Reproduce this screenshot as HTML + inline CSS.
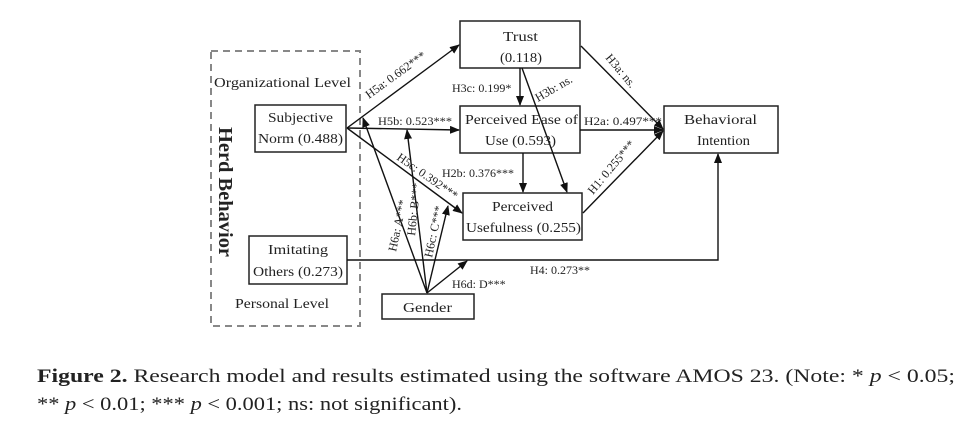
<!DOCTYPE html>
<html><head><meta charset="utf-8"><style>
body{margin:0;background:#fff;width:961px;height:424px;overflow:hidden;font-family:"Liberation Serif",serif}
</style></head><body>
<svg width="961" height="424" style="position:absolute;left:0;top:0" font-family="Liberation Serif, serif" fill="#222">
<defs><marker id="a" markerWidth="10" markerHeight="8" refX="9" refY="4" orient="auto" markerUnits="userSpaceOnUse"><path d="M0,0 L10,4 L0,8 z" fill="#111"/></marker></defs>
<rect x="211" y="51" width="149" height="275" fill="none" stroke="#888" stroke-width="2" stroke-dasharray="7,5"/>
<g fill="#fff" stroke="#222" stroke-width="1.5">
<rect x="460" y="21" width="120" height="47"/>
<rect x="460" y="106" width="120" height="47"/>
<rect x="463" y="193" width="119" height="47"/>
<rect x="255" y="105" width="91" height="47"/>
<rect x="249" y="236" width="98" height="48"/>
<rect x="382" y="294" width="92" height="25"/>
<rect x="664" y="106" width="114" height="47"/>
</g>
<g stroke="#111" stroke-width="1.4" fill="none" marker-end="url(#a)">
<line x1="347" y1="128" x2="459" y2="45"/>
<line x1="347" y1="128" x2="459" y2="130"/>
<line x1="347" y1="128" x2="462" y2="213"/>
<line x1="520" y1="68" x2="520" y2="105"/>
<line x1="522" y1="68" x2="567" y2="192"/>
<line x1="523" y1="153" x2="523" y2="192"/>
<line x1="581" y1="46" x2="663" y2="129"/>
<line x1="580" y1="130" x2="663" y2="130"/>
<line x1="583" y1="213" x2="663" y2="131"/>
<line x1="427" y1="293" x2="363" y2="118"/>
<line x1="427" y1="293" x2="407" y2="130"/>
<line x1="427" y1="293" x2="448" y2="206"/>
<line x1="427" y1="293" x2="467" y2="261"/>
<polyline points="347,260 718,260 718,154"/>
</g>
<g font-size="14">
<text x="503" y="41" textLength="35" lengthAdjust="spacingAndGlyphs">Trust</text>
<text x="500" y="62" textLength="42" lengthAdjust="spacingAndGlyphs">(0.118)</text>
<text x="465" y="124" textLength="113" lengthAdjust="spacingAndGlyphs">Perceived Ease of</text>
<text x="485" y="145" textLength="71" lengthAdjust="spacingAndGlyphs">Use (0.593)</text>
<text x="492" y="211" textLength="61" lengthAdjust="spacingAndGlyphs">Perceived</text>
<text x="466" y="232" textLength="115" lengthAdjust="spacingAndGlyphs">Usefulness (0.255)</text>
<text x="268" y="122" textLength="65" lengthAdjust="spacingAndGlyphs">Subjective</text>
<text x="258" y="143" textLength="85" lengthAdjust="spacingAndGlyphs">Norm (0.488)</text>
<text x="268" y="254" textLength="60" lengthAdjust="spacingAndGlyphs">Imitating</text>
<text x="253" y="276" textLength="90" lengthAdjust="spacingAndGlyphs">Others (0.273)</text>
<text x="403" y="312" textLength="49" lengthAdjust="spacingAndGlyphs">Gender</text>
<text x="684" y="124" textLength="73" lengthAdjust="spacingAndGlyphs">Behavioral</text>
<text x="697" y="145" textLength="53" lengthAdjust="spacingAndGlyphs">Intention</text>
<text x="214" y="87" textLength="137" lengthAdjust="spacingAndGlyphs">Organizational Level</text>
<text x="235" y="308" textLength="94" lengthAdjust="spacingAndGlyphs">Personal Level</text>
</g>
<text x="226" y="192" font-size="20" font-weight="bold" text-anchor="middle" transform="rotate(90 226 192)" dy="7" textLength="130" lengthAdjust="spacingAndGlyphs">Herd Behavior</text>
<g font-size="12">
<text x="369" y="99" transform="rotate(-36 369 99)">H5a: 0.662***</text>
<text x="378" y="125" textLength="74" lengthAdjust="spacingAndGlyphs">H5b: 0.523***</text>
<text x="396" y="159" transform="rotate(35 396 159)">H5c: 0.392***</text>
<text x="452" y="92">H3c: 0.199*</text>
<text x="538" y="102" transform="rotate(-30 538 102)">H3b: ns.</text>
<text x="605" y="58" transform="rotate(50 605 58)">H3a: ns.</text>
<text x="584" y="125" textLength="78" lengthAdjust="spacingAndGlyphs">H2a: 0.497***</text>
<text x="442" y="177">H2b: 0.376***</text>
<text x="593" y="195" transform="rotate(-50 593 195)">H1: 0.255***</text>
<text x="396" y="252" transform="rotate(-78 396 252)">H6a: A***</text>
<text x="415" y="236" transform="rotate(-84 415 236)">H6b: B***</text>
<text x="432" y="258" transform="rotate(-78 432 258)">H6c: C***</text>
<text x="452" y="288">H6d: D***</text>
<text x="530" y="274">H4: 0.273**</text>
</g>
<g font-size="19" fill="#222">
<text x="37" y="382" textLength="918" lengthAdjust="spacingAndGlyphs"><tspan font-weight="bold">Figure 2.</tspan>  Research model and results estimated using the software AMOS 23.  (Note: * <tspan font-style="italic">p</tspan> &lt; 0.05;</text>
<text x="37" y="410" textLength="425" lengthAdjust="spacingAndGlyphs">** <tspan font-style="italic">p</tspan> &lt; 0.01; *** <tspan font-style="italic">p</tspan> &lt; 0.001; ns: not significant).</text>
</g>
</svg>
</body></html>
